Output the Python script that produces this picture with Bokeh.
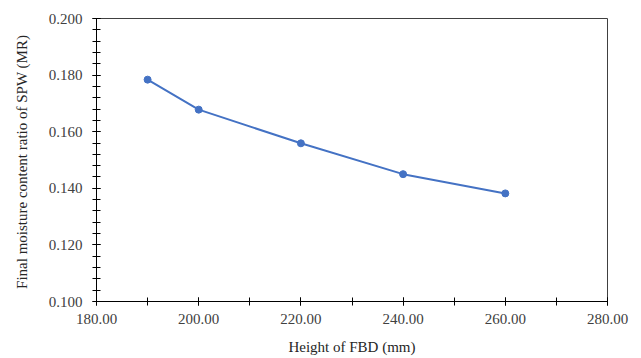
from bokeh.plotting import figure
from bokeh.models import NumeralTickFormatter, Range1d, SingleIntervalTicker
from bokeh.embed import file_html
from bokeh.resources import INLINE

height_mm = [190, 200, 220, 240, 260]
moisture_ratio = [0.1784, 0.1678, 0.1559, 0.1450, 0.1382]

FONT = "'Liberation Serif', 'Times New Roman', serif"

p = figure(width=641, height=358, output_backend="svg", toolbar_location=None,
           x_range=Range1d(180, 280), y_range=Range1d(0.100, 0.200))
p.min_border_left = 96
p.min_border_right = 34
p.min_border_top = 18
p.min_border_bottom = 57
p.outline_line_color = "#404040"
p.outline_line_width = 1
p.background_fill_color = "white"
p.border_fill_color = "white"
p.grid.visible = False

p.line(height_mm, moisture_ratio, line_color="#4472C4", line_width=2)
p.scatter(height_mm, moisture_ratio, size=7, fill_color="#4472C4", line_color="#4472C4")

p.xaxis.ticker = SingleIntervalTicker(interval=20, num_minor_ticks=2)
p.yaxis.ticker = SingleIntervalTicker(interval=0.02, num_minor_ticks=5)
p.xaxis.formatter = NumeralTickFormatter(format="0.00")
p.yaxis.formatter = NumeralTickFormatter(format="0.000")

for ax in (p.xaxis[0], p.yaxis[0]):
    ax.axis_line_color = "black"
    ax.major_tick_line_color = "black"
    ax.minor_tick_line_color = "black"
    ax.major_tick_in = 4
    ax.major_tick_out = 4
    ax.minor_tick_in = 4
    ax.minor_tick_out = 4
    ax.major_label_text_font = FONT
    ax.major_label_text_font_size = "15px"
    ax.major_label_text_color = "#404040"
    ax.axis_label_text_font = FONT
    ax.axis_label_text_font_size = "15px"
    ax.axis_label_text_font_style = "normal"
    ax.axis_label_text_color = "#262626"

p.xaxis.axis_label = "Height of FBD (mm)"
p.yaxis.axis_label = "Final moisture content ratio  of SPW (MR)"
p.xaxis.major_label_standoff = 8
p.xaxis.axis_label_standoff = 12
p.yaxis.major_label_standoff = 10
p.yaxis.axis_label_standoff = 16

open("out.html", "w").write(file_html(p, INLINE))
